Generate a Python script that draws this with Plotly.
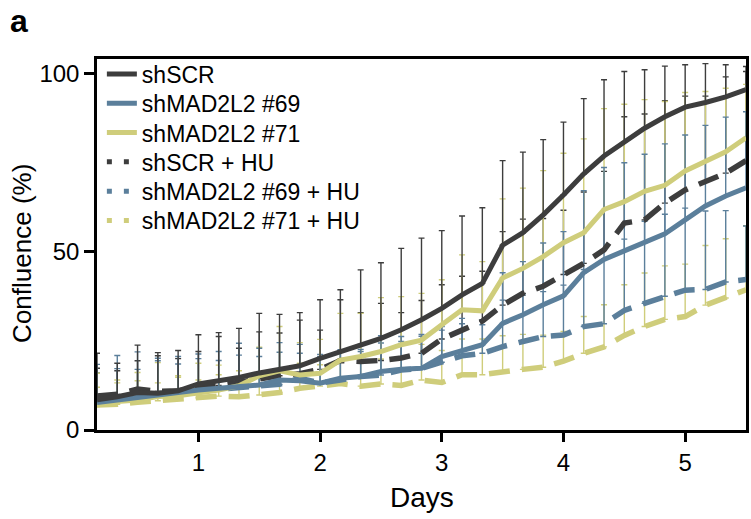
import plotly.graph_objects as go

# time points (hours after seeding) -> days
hours = [4, 8, 12, 16, 20, 24, 28, 32, 36, 40, 44, 48, 52, 56, 60, 64, 68, 72,
         76, 80, 84, 88, 92, 96, 100, 104, 108, 112, 116, 120, 124, 128, 132]
days = [h / 24 for h in hours]

# mean confluence (%)
shSCR = [8.5, 9.3, 10.5, 10.3, 11.0, 12.9, 13.8, 14.7, 16.0, 17.0, 18.0, 20.1, 22.0, 24.0, 25.7, 28.1, 30.9,
         34.1, 37.9, 41.1, 51.8, 55.3, 60.3, 65.9, 71.8, 76.8, 80.8, 84.6, 87.8, 90.5, 91.8, 93.4, 95.4]
sh69 = [7.7, 8.4, 9.4, 9.8, 10.5, 11.2, 11.7, 12.2, 12.6, 14.0, 13.8, 13.1, 14.5, 15.0, 16.4, 17.0, 17.3,
        20.6, 22.4, 23.9, 29.9, 32.3, 35.1, 37.6, 44.1, 47.8, 50.2, 52.5, 55.0, 58.9, 62.8, 65.6, 67.9]
sh71 = [7.0, 8.0, 8.4, 9.4, 9.6, 10.3, 11.2, 12.4, 15.2, 16.6, 15.4, 15.9, 19.6, 20.6, 22.0, 23.9, 25.2,
        29.5, 33.7, 33.4, 42.6, 45.3, 48.6, 52.5, 55.3, 61.8, 64.0, 66.9, 68.6, 72.6, 75.3, 78.0, 81.9]
shSCR_HU = [9.5, 10.0, 11.5, 10.8, 11.0, 12.0, 12.5, 13.5, 14.5, 15.2, 15.8, 17.0, 19.5, 19.2, 19.5, 20.2, 21.5,
            25.5, 28.0, 30.5, 35.0, 38.3, 40.3, 43.6, 46.7, 50.5, 58.0, 58.9, 63.6, 67.3, 69.6, 72.0, 75.5]
sh69_HU = [8.0, 8.2, 9.0, 10.4, 10.5, 11.0, 11.5, 12.0, 12.6, 12.8, 14.5, 13.2, 14.0, 15.0, 15.4, 16.8, 17.3,
           19.0, 20.8, 21.5, 23.4, 24.8, 26.2, 26.6, 29.0, 29.8, 33.5, 35.5, 37.5, 39.2, 39.4, 41.5, 42.2]
sh71_HU = [7.0, 7.2, 7.8, 8.2, 8.8, 9.0, 9.5, 9.3, 9.8, 10.5, 11.7, 12.3, 13.0, 12.3, 12.9, 12.5, 14.0,
           13.3, 15.5, 15.5, 16.4, 17.0, 17.6, 19.3, 21.5, 23.3, 26.5, 29.0, 31.0, 31.8, 35.0, 37.0, 39.3]

# standard deviations (upper error bars)
shSCR_sd = [13.0, 9.4, 13.3, 11.4, 11.3, 13.8, 13.5, 13.8, 16.7, 15.4, 14.9, 16.4, 17.3, 20.9, 21.2, 22.8, 22.9,
            21.8, 22.1, 21.2, 23.7, 22.6, 21.1, 20.4, 21.1, 21.4, 19.7, 16.4, 14.2, 11.9, 10.9, 9.0, 6.5]
sh69_sd = [10.7, 12.5, 12.5, 10.3, 10.1, 10.1, 10.3, 12.1, 10.3, 10.5, 10.2, 7.5, 8.0, 7.6, 10.0, 9.2, 9.5,
           8.4, 8.9, 7.0, 14.2, 14.9, 17.3, 18.0, 23.0, 25.8, 24.7, 24.8, 25.2, 23.8, 22.6, 22.1, 21.3]
sh71_sd = [8.9, 6.0, 7.7, 9.5, 5.6, 8.4, 7.0, 4.2, 8.0, 12.4, 9.1, 9.5, 13.1, 12.1, 15.1, 13.5, 13.1,
           12.6, 15.4, 13.8, 22.2, 22.5, 24.1, 25.1, 26.3, 28.3, 27.3, 25.7, 23.5, 22.0, 19.6, 17.8, 15.0]
shSCR_HU_sd = [7.8, 6.6, 7.9, 10.0, 9.0, 10.0, 13.7, 9.4, 13.0, 12.0, 15.0, 11.0, 17.0, 13.7, 16.0, 12.7, 14.8,
               15.2, 15.1, 14.0, 20.6, 20.8, 19.0, 18.0, 20.0, 22.0, 29.8, 29.7, 28.7, 26.3, 24.0, 27.0, 25.0]
sh69_HU_sd = [8, 9, 8, 9, 8, 9, 8, 9, 8, 9, 7, 8, 8, 7, 9, 8, 9,
              9, 9, 8, 13, 13, 12.6, 14, 16, 18, 20, 23, 23, 23, 22, 20, 15]
sh71_HU_sd = [5, 6, 6, 5, 6, 5, 6, 5, 6, 6, 7, 6, 7, 8, 7, 8, 10,
              9, 10, 10, 10, 9.8, 9, 8.3, 10.3, 11.8, 14.2, 15, 15, 14.7, 16.7, 16.6, 18]

labels = ["shSCR", "shMAD2L2 #69", "shMAD2L2 #71",
          "shSCR + HU", "shMAD2L2 #69 + HU", "shMAD2L2 #71 + HU"]

BLACK = "#3d3d3d"
BLUE = "#5b7f9b"
YELLOW = "#cfcd7b"
FONT = "Liberation Sans, Arial, Helvetica, sans-serif"

series = [
    # (label, mean, sd, color, dashed)
    (labels[5], sh71_HU, sh71_HU_sd, YELLOW, True),
    (labels[4], sh69_HU, sh69_HU_sd, BLUE, True),
    (labels[3], shSCR_HU, shSCR_HU_sd, BLACK, True),
    (labels[2], sh71, sh71_sd, YELLOW, False),
    (labels[1], sh69, sh69_sd, BLUE, False),
    (labels[0], shSCR, shSCR_sd, BLACK, False),
]

fig = go.Figure()

# error bars first (upper only)
for name, m, sd, col, dashed in series:
    fig.add_trace(go.Scatter(
        x=days, y=m, mode="markers", marker=dict(size=1, color=col, opacity=0),
        error_y=dict(type="data", symmetric=False, array=sd, arrayminus=[0] * len(sd),
                     color=col, thickness=1.4, width=3),
        showlegend=False, hoverinfo="skip"))

# lines
for name, m, sd, col, dashed in series:
    fig.add_trace(go.Scatter(
        x=days, y=m, mode="lines",
        line=dict(color=col, width=5.5 if dashed else 5,
                  dash="21px,12px" if dashed else "solid"),
        showlegend=False, name=name))

# legend entries, one small legend per row for exact spacing
legend_styles = [(labels[0], BLACK, False), (labels[1], BLUE, False), (labels[2], YELLOW, False),
                 (labels[3], BLACK, True), (labels[4], BLUE, True), (labels[5], YELLOW, True)]
PLOT_TOP, PLOT_BOTTOM = 59, 430
row_centers = [74, 103.3, 132.6, 161.9, 191.2, 220.5]
layout_legends = {}
for i, (name, col, dashed) in enumerate(legend_styles):
    key = "legend" if i == 0 else f"legend{i + 1}"
    fig.add_trace(go.Scatter(
        x=[None], y=[None], mode="lines", name=name, legend=key, showlegend=True,
        line=dict(color=col, width=5, dash="5px,12px" if dashed else "solid")))
    layout_legends[key] = dict(
        x=0.0075, y=(PLOT_BOTTOM - row_centers[i]) / (PLOT_BOTTOM - PLOT_TOP),
        xanchor="left", yanchor="middle", bgcolor="rgba(0,0,0,0)",
        font=dict(size=23, family=FONT, color="black"))

fig.update_layout(
    width=751, height=519,
    margin=dict(l=97, r=2, t=59, b=89),
    paper_bgcolor="white", plot_bgcolor="white",
    font=dict(family=FONT, color="black", size=22),
    showlegend=True,
    annotations=[
        dict(text="<b>a</b>", xref="paper", yref="paper", x=-0.137, y=1.103,
             xanchor="left", yanchor="middle", showarrow=False,
             font=dict(size=32, family=FONT, color="black")),
        dict(text="Confluence (%)", xref="paper", yref="paper", x=-0.1158, y=0.477,
             xanchor="center", yanchor="middle", textangle=-90, showarrow=False,
             font=dict(size=26, family=FONT, color="black")),
        dict(text="Days", xref="paper", yref="paper", x=0.5, y=-0.181,
             xanchor="center", yanchor="middle", showarrow=False,
             font=dict(size=28, family=FONT, color="black")),
    ],
    **layout_legends,
)

fig.update_xaxes(range=[hours[0] / 24, hours[-1] / 24], tickvals=[1, 2, 3, 4, 5],
                 ticks="outside", ticklen=9, tickwidth=2.5, tickcolor="black",
                 showline=True, linewidth=2.5, linecolor="black", mirror=True,
                 showgrid=False, zeroline=False,
                 tickfont=dict(size=24, family=FONT))
fig.update_yaxes(range=[0, 104], tickvals=[0, 50, 100],
                 ticks="outside", ticklen=10, tickwidth=2.5, tickcolor="black",
                 showline=True, linewidth=2.5, linecolor="black", mirror=True,
                 showgrid=False, zeroline=False,
                 tickfont=dict(size=24, family=FONT))

fig.write_html("out.html")
